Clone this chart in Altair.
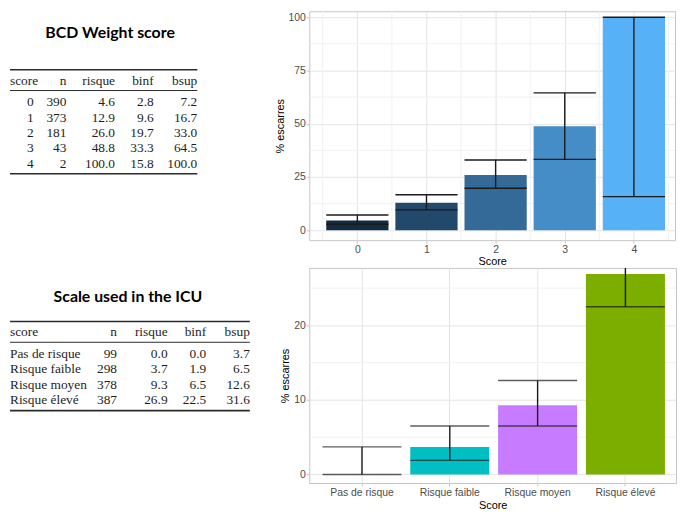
import altair as alt
import pandas as pd

# ---------------- data ----------------
bcd_score = [0, 1, 2, 3, 4]
bcd_n = [390, 373, 181, 43, 2]
bcd_risque = [4.6, 12.9, 26.0, 48.8, 100.0]
bcd_binf = [2.8, 9.6, 19.7, 33.3, 15.8]
bcd_bsup = [7.2, 16.7, 33.0, 64.5, 100.0]

icu_score = ["Pas de risque", "Risque faible", "Risque moyen", "Risque élevé"]
icu_n = [99, 298, 378, 387]
icu_risque = [0.0, 3.7, 9.3, 26.9]
icu_binf = [0.0, 1.9, 6.5, 22.5]
icu_bsup = [3.7, 6.5, 12.6, 31.6]

icu_colors = ["#F8766D", "#00BFC4", "#C77CFF", "#7CAE00"]
bcd_gradient = ["#132B43", "#56B1F7"]

table_cols = ["n", "risque", "binf", "bsup"]

bcd_yticks = [0, 25, 50, 75, 100]
bcd_yminor = [12.5, 37.5, 62.5, 87.5]
bcd_xminor = [-0.5, 0.5, 1.5, 2.5, 3.5, 4.5]
icu_yticks = [0, 10, 20]
icu_yminor = [5, 15, 25]

# ---------------- styles ----------------
SANS = "Liberation Sans"
SERIF = "Liberation Serif"
MAJOR = "#E4E4E4"
MINOR = "#F1F1F1"
BORDER = "#C4C4C4"
ERR = "#1A1A1A"
TXT = "#1E1E1E"
RULE = "#2B2B2B"


def make_table(title, title_x, title_y, scores, ns, risques, binfs, bsups,
               score_align, score_x, col_right, header_y, row_y0, row_step,
               rule_x, rules, width, height):
    df = pd.DataFrame({"score": scores, "n": ns, "risque": risques,
                       "binf": binfs, "bsup": bsups})
    nrow = len(df)
    df["i"] = list(range(nrow))
    df["score_txt"] = [str(s) for s in scores]
    df["n_txt"] = [f"{v:d}" for v in ns]
    df["risque_txt"] = [f"{v:.1f}" for v in risques]
    df["binf_txt"] = [f"{v:.1f}" for v in binfs]
    df["bsup_txt"] = [f"{v:.1f}" for v in bsups]

    yrow = alt.Y("i:Q", axis=None,
                 scale=alt.Scale(domain=[0, nrow - 1],
                                 range=[row_y0, row_y0 + row_step * (nrow - 1)]))
    layers = []
    layers.append(
        alt.Chart(pd.DataFrame({"t": [title]}))
        .mark_text(font="Lato", fontWeight="bold", fontSize=16, align="center",
                   baseline="middle", color="#000000")
        .encode(x=alt.value(title_x), y=alt.value(title_y), text="t:N")
    )
    one = pd.DataFrame({"k": [0]})
    for (ry, rw) in rules:
        layers.append(
            alt.Chart(one).mark_rule(color=RULE, strokeWidth=rw)
            .encode(x=alt.value(rule_x[0]), x2=alt.value(rule_x[1]), y=alt.value(ry))
        )
    # header
    layers.append(
        alt.Chart(pd.DataFrame({"h": ["score"]}))
        .mark_text(font=SERIF, fontSize=13.5, align="left", baseline="middle", color=TXT)
        .encode(x=alt.value(rule_x[0]), y=alt.value(header_y), text="h:N")
    )
    for c in table_cols:
        layers.append(
            alt.Chart(pd.DataFrame({"h": [c]}))
            .mark_text(font=SERIF, fontSize=13.5, align="right", baseline="middle", color=TXT)
            .encode(x=alt.value(col_right[c]), y=alt.value(header_y), text="h:N")
        )
    base = alt.Chart(df)
    layers.append(
        base.mark_text(font=SERIF, fontSize=13.5, align=score_align, baseline="middle", color=TXT)
        .encode(x=alt.value(score_x), y=yrow, text="score_txt:N")
    )
    for c in table_cols:
        layers.append(
            base.mark_text(font=SERIF, fontSize=13.5, align="right", baseline="middle", color=TXT)
            .encode(x=alt.value(col_right[c]), y=yrow, text=f"{c}_txt:N")
        )
    return alt.layer(*layers).properties(width=width, height=height)


table1 = make_table(
    "BCD Weight score", 101, 22, bcd_score, bcd_n, bcd_risque, bcd_binf, bcd_bsup,
    "right", 24, {"n": 57, "risque": 106, "binf": 145, "bsup": 189},
    70, 92, 15.5, (0, 189), [(59, 1.6), (80, 1.0), (164, 1.6)], 264, 250)

table2 = make_table(
    "Scale used in the ICU", 119, 29, icu_score, icu_n, icu_risque, icu_binf, icu_bsup,
    "left", 0, {"n": 108, "risque": 159, "binf": 198, "bsup": 242},
    65, 87, 15.5, (0, 242), [(54, 1.6), (75, 1.0), (144, 1.6)], 270, 150)

# ---------------- top bar chart (BCD) ----------------
df1 = pd.DataFrame({"score": bcd_score, "risque": bcd_risque,
                    "binf": bcd_binf, "bsup": bcd_bsup})
xs1 = alt.Scale(domain=[-0.695, 4.595], nice=False, zero=False)
ys1 = alt.Scale(domain=[-4.65, 102.8], nice=False, zero=False)
XT, YT = "Score", "% escarres"

base1 = alt.Chart(df1).transform_calculate(lo="datum.score - 0.45", hi="datum.score + 0.45")

minor_x1 = alt.Chart(pd.DataFrame({"v": bcd_xminor})).mark_rule(color=MINOR, strokeWidth=1).encode(
    x=alt.X("v:Q", scale=xs1, title=XT))
minor_y1 = alt.Chart(pd.DataFrame({"v": bcd_yminor})).mark_rule(color=MINOR, strokeWidth=1).encode(
    y=alt.Y("v:Q", scale=ys1, title=YT))
bars1 = base1.mark_bar().encode(
    x=alt.X("lo:Q", scale=xs1, title=XT,
            axis=alt.Axis(values=bcd_score, format="d", grid=True, labelPadding=1, titlePadding=1)),
    x2="hi:Q",
    y=alt.Y("risque:Q", scale=ys1, title=YT,
            axis=alt.Axis(values=bcd_yticks, grid=True, labelPadding=1, titlePadding=3)),
    y2=alt.datum(0),
    color=alt.Color("score:Q", legend=None,
                    scale=alt.Scale(domain=[0, 4], range=bcd_gradient, interpolate="lab")),
)
err1 = base1.mark_rule(color=ERR, strokeWidth=1.4).encode(
    x=alt.X("score:Q", scale=xs1, title=XT),
    y=alt.Y("binf:Q", scale=ys1, title=YT), y2="bsup:Q")
caps1 = base1.transform_fold(["binf", "bsup"], as_=["k", "v"]).mark_rule(
    color=ERR, strokeWidth=1.4).encode(
    x=alt.X("lo:Q", scale=xs1, title=XT), x2="hi:Q",
    y=alt.Y("v:Q", scale=ys1, title=YT))

bar1 = alt.layer(minor_x1, minor_y1, bars1, err1, caps1).properties(
    width=369, height=231, view=alt.ViewBackground(stroke=BORDER, strokeWidth=1))

# ---------------- bottom bar chart (ICU) ----------------
df2 = pd.DataFrame({"score": icu_score, "risque": icu_risque,
                    "binf": icu_binf, "bsup": icu_bsup})
xs2 = alt.Scale(domain=icu_score, paddingInner=0.1, paddingOuter=0.138, align=0.543)
ys2 = alt.Scale(domain=[-1.14, 27.7], nice=False, zero=False)

minor_y2 = alt.Chart(pd.DataFrame({"v": icu_yminor})).mark_rule(color=MINOR, strokeWidth=1).encode(
    y=alt.Y("v:Q", scale=ys2, title=YT))
base2 = alt.Chart(df2)
bars2 = base2.mark_bar(clip=True).encode(
    x=alt.X("score:N", scale=xs2, sort=icu_score, title=XT,
            axis=alt.Axis(labelAngle=0, grid=True, bandPosition=0.5, labelPadding=2, titlePadding=1)),
    y=alt.Y("risque:Q", scale=ys2, title=YT,
            axis=alt.Axis(values=icu_yticks, grid=True, labelPadding=1, titlePadding=3)),
    y2=alt.datum(0),
    color=alt.Color("score:N", legend=None, scale=alt.Scale(domain=icu_score, range=icu_colors)),
)
err2 = base2.mark_rule(color=ERR, strokeWidth=1.4, clip=True).encode(
    x=alt.X("score:N", scale=xs2, sort=icu_score, title=XT),
    y=alt.Y("binf:Q", scale=ys2, title=YT), y2="bsup:Q")
caps2 = base2.transform_fold(["binf", "bsup"], as_=["k", "v"]).mark_tick(
    color=ERR, thickness=1.4, size=79.7, clip=True).encode(
    x=alt.X("score:N", scale=xs2, sort=icu_score, title=XT),
    y=alt.Y("v:Q", scale=ys2, title=YT))

bar2 = alt.layer(minor_y2, bars2, err2, caps2).properties(
    width=370, height=217, view=alt.ViewBackground(stroke=BORDER, strokeWidth=1))

row1 = alt.hconcat(table1, bar1, spacing=0)
row2 = alt.hconcat(table2, bar2, spacing=0)

chart = alt.vconcat(row1, row2, spacing=0).properties(padding=0).configure_view(
    stroke="transparent").configure_axis(
    labelFont=SANS, labelFontSize=10.5, labelColor="#4D4D4D",
    titleFont=SANS, titleFontSize=11, titleFontWeight="normal", titleColor="#000000",
    domain=False, tickColor=BORDER, tickSize=3, gridColor=MAJOR, gridWidth=1,
).configure_concat(spacing=0)

chart.save("out.html", embed_options={"renderer": "svg", "actions": False})
